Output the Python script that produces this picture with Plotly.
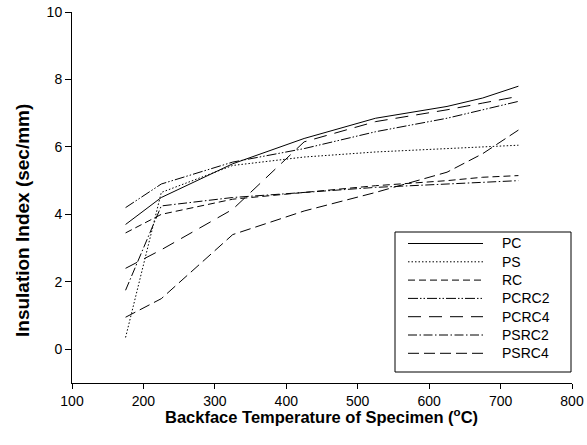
import plotly.graph_objects as go

# ---- data ----
temps = [175, 225, 325, 425, 525, 625, 675, 725]
pc    = [3.70, 4.50, 5.50, 6.25, 6.85, 7.20, 7.45, 7.80]
ps    = [0.35, 4.65, 5.45, 5.70, 5.85, 5.95, 6.00, 6.05]
rc    = [3.45, 4.00, 4.45, 4.65, 4.85, 5.00, 5.10, 5.15]
pcrc2 = [4.20, 4.90, 5.55, 5.95, 6.45, 6.85, 7.10, 7.35]
pcrc4 = [2.40, 2.95, 4.15, 6.15, 6.75, 7.10, 7.30, 7.50]
psrc2 = [1.75, 4.25, 4.50, 4.65, 4.80, 4.90, 4.95, 5.00]
psrc4 = [0.95, 1.50, 3.40, 4.10, 4.65, 5.25, 5.80, 6.50]

series_names = ["PC", "PS", "RC", "PCRC2", "PCRC4", "PSRC2", "PSRC4"]
series_vals = [pc, ps, rc, pcrc2, pcrc4, psrc2, psrc4]

x_ticks = [100, 200, 300, 400, 500, 600, 700, 800]
y_ticks = [0, 2, 4, 6, 8, 10]
x_title = "<b>Backface Temperature of Specimen (<sup>o</sup>C)</b>"
y_title = "<b>Insulation Index (sec/mm)</b>"

# ---- styles ----
dashes = ["solid", "1.5px,2px", "7px,4px", "10px,2px,1.5px,2px,1.5px,2px",
          "13px,8px", "9px,2.5px,1.5px,2.5px", "11px,5px"]
FONT = "Arial, Liberation Sans, sans-serif"

fig = go.Figure()
for name, vals, dash in zip(series_names, series_vals, dashes):
    fig.add_trace(go.Scatter(x=temps, y=vals, mode="lines", name=name,
                             line=dict(color="black", width=1, dash=dash),
                             showlegend=False, hoverinfo="skip"))

# ---- layout geometry ----
L, R, T, B = 72, 572, 12, 383
W, H = R - L, B - T
def px(xp): return (xp - L) / W
def py(yp): return (B - yp) / H

# ---- manual legend box (long line samples like the reference) ----
shapes = [dict(type="rect", xref="paper", yref="paper",
               x0=px(395), x1=px(571), y0=py(372), y1=py(232),
               line=dict(color="black", width=1), fillcolor="white", layer="above")]
annotations = []
for i, (name, dash) in enumerate(zip(series_names, dashes)):
    yy = 243.5 + i * 18.3
    shapes.append(dict(type="line", xref="paper", yref="paper",
                       x0=px(408), x1=px(483), y0=py(yy), y1=py(yy),
                       line=dict(color="black", width=1, dash=dash), layer="above"))
    annotations.append(dict(xref="paper", yref="paper", x=px(500), y=py(yy),
                            text=name, showarrow=False, xanchor="left", yanchor="middle",
                            font=dict(family=FONT, size=14, color="black")))

# axis titles
annotations.append(dict(xref="paper", yref="paper", x=px(321), y=py(416),
                        text=x_title, showarrow=False, xanchor="center", yanchor="middle",
                        font=dict(family=FONT, size=16.5, color="black")))
annotations.append(dict(xref="paper", yref="paper", x=px(23), y=py(221),
                        text=y_title, showarrow=False, xanchor="center", yanchor="middle",
                        textangle=-90, font=dict(family=FONT, size=19, color="black")))

fig.update_layout(
    width=587, height=445,
    margin=dict(l=L, r=587 - R, t=T, b=445 - B),
    paper_bgcolor="white", plot_bgcolor="white",
    font=dict(family=FONT, color="black"),
    shapes=shapes, annotations=annotations,
    showlegend=False,
)
fig.update_xaxes(range=[100, 800], tickvals=x_ticks, ticktext=[str(v) for v in x_ticks],
                 ticks="outside", ticklen=5, tickcolor="black", showline=True,
                 linecolor="black", linewidth=1, showgrid=False, zeroline=False,
                 automargin=False, tickfont=dict(size=14, family=FONT))
fig.update_yaxes(range=[-1, 10], tickvals=y_ticks, ticktext=[str(v) for v in y_ticks],
                 ticks="outside", ticklen=6, tickcolor="black", showline=True,
                 linecolor="black", linewidth=1, showgrid=False, zeroline=False,
                 automargin=False, tickfont=dict(size=14, family=FONT))

fig.write_html("out.html", config={"displayModeBar": False},
               post_script="document.body.style.margin='0px';document.body.style.overflow='hidden';")
